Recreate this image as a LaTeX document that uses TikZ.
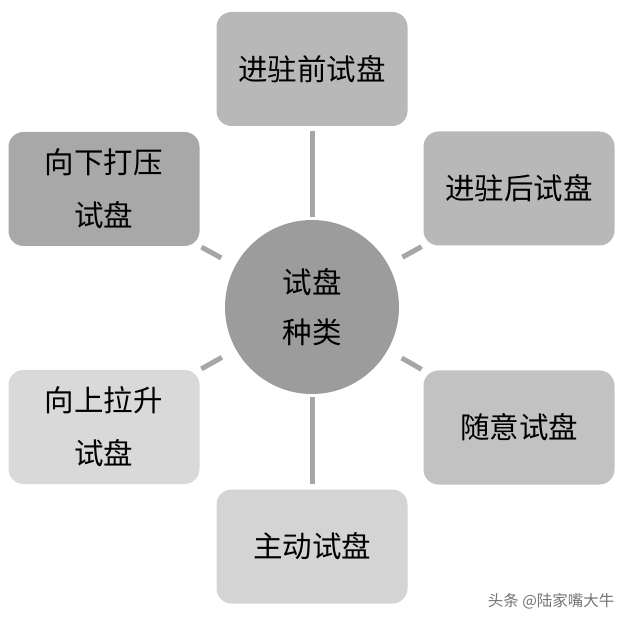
\documentclass[tikz,border=0pt]{standalone}
\usepackage{fontspec}
\setmainfont{Noto Sans CJK SC}
\usepackage{xcolor}
\usepackage{tikz}
\usetikzlibrary{
  positioning,
  calc
}

\definecolor{linegray}{HTML}{A6A6A6}

\begin{document}
\begin{tikzpicture}[x=1pt,y=-1pt,
  box/.style={rectangle,rounded corners=15pt,minimum width=191pt,minimum height=114pt,
    align=center,inner sep=0pt,font=\fontsize{29.5}{53}\selectfont},
  link/.style={draw=linegray,line width=5pt}]
  % 画像と同じ大きさ
  \useasboundingbox (0,0) rectangle (633,623);

  % 中央の円
  \node[circle,fill=black!39,minimum size=174pt,inner sep=0pt,align=center,
    font=\fontsize{29.5}{50}\selectfont] (C) at (312,307) {试盘\\种类};

  % 周りの六つの箱
  \node[box,fill=black!28] (T)  at (312,69)    {进驻前试盘};
  \node[box,fill=black!28] (UR) at (519,188.5) {进驻后试盘};
  \node[box,fill=black!34] (UL) at (104,189)   {向下打压\\试盘};
  \node[box,fill=black!15] (LL) at (104,427)   {向上拉升\\试盘};
  \node[box,fill=black!24] (LR) at (519,427.5) {随意试盘};
  \node[box,fill=black!17] (B)  at (312,546.5) {主动试盘};

  % 縦の線
  \draw[link,shorten <=5pt,shorten >=3pt] (T) -- (C);
  \draw[link,shorten <=3pt,shorten >=5pt] (C) -- (B);

  % 斜めの短い線
  \foreach \b/\a in {UL/south east,UR/south west,LL/north east,LR/north west}
  \draw[link,shorten <=2pt,shorten >=16pt] (\b.\a) -- (C);

  % 透かし
  \node[anchor=east,font=\fontsize{15.5}{17}\selectfont,text=black!55] (W) at (618,601) {头条 @陆家嘴大牛};
\end{tikzpicture}
\end{document}
